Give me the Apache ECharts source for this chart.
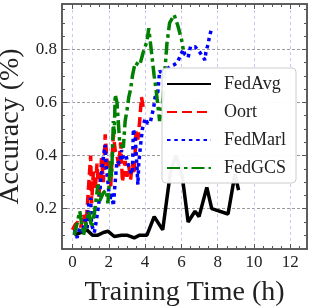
<!DOCTYPE html>
<html><head><meta charset="utf-8">
<script src="https://cdn.jsdelivr.net/npm/echarts@6/dist/echarts.min.js"></script>
<style>html,body{margin:0;padding:0;background:#fff}#c{width:314px;height:306px}</style>
</head><body><div id="c"></div>
<script>
const seriesNames = ['FedAvg', 'Oort', 'FedMarl', 'FedGCS'];
const xTickLabels = [0, 2, 4, 6, 8, 10, 12];
const yTickLabels = [0.2, 0.4, 0.6, 0.8];

const fedAvgX = [0.1,0.45,0.8,1.1,1.4,1.7,1.95,2.3,2.7,3.0,3.4,3.7,4.1,4.5,4.97,5.4,5.7,6.05,6.37,6.75,6.97,7.4,7.67,8.57,8.95,9.15];
const fedAvgY = [0.10,0.11,0.12,0.10,0.10,0.11,0.115,0.095,0.10,0.10,0.09,0.10,0.10,0.17,0.12,0.34,0.40,0.32,0.15,0.19,0.17,0.28,0.20,0.18,0.33,0.27];

const oortX = [0.0,0.15,0.3,0.45,0.6,0.75,0.9,1.0,1.05,1.15,1.25,1.35,1.45,1.6,1.7,1.8,1.9,2.0,2.1,2.25,2.35,2.45,2.55,2.65,2.75,2.9,3.0,3.1,3.2,3.3,3.4,3.5,3.6,3.7,3.8,3.9];
const oortY = [0.12,0.14,0.15,0.13,0.18,0.14,0.30,0.40,0.22,0.34,0.27,0.37,0.24,0.39,0.30,0.48,0.38,0.34,0.28,0.48,0.42,0.40,0.36,0.45,0.30,0.38,0.32,0.36,0.31,0.37,0.33,0.49,0.46,0.53,0.62,0.58];

const fedMarlX = [0.1,0.25,0.4,0.55,0.7,0.8,0.9,1.0,1.05,1.2,1.3,1.45,1.55,1.65,1.75,1.8,1.85,1.95,2.05,2.15,2.25,2.35,2.45,2.6,2.7,2.8,2.95,3.05,3.2,3.3,3.35,3.45,3.55,3.6,3.65,3.75,3.85,4.0,4.15,4.3,4.4,4.47,4.55,4.7,4.8,5.0,5.27,5.55,5.77,6.1,6.2,6.37,6.5,6.75,7.0,7.3,7.35,7.47,7.55,7.67];
const fedMarlY = [0.12,0.09,0.13,0.11,0.16,0.12,0.22,0.24,0.14,0.11,0.15,0.22,0.30,0.37,0.42,0.44,0.36,0.30,0.23,0.26,0.21,0.30,0.38,0.37,0.42,0.39,0.40,0.37,0.34,0.33,0.50,0.47,0.36,0.29,0.37,0.44,0.50,0.54,0.52,0.53,0.56,0.58,0.62,0.64,0.72,0.70,0.73,0.74,0.75,0.80,0.78,0.77,0.81,0.81,0.79,0.76,0.79,0.82,0.85,0.88];

const fedGcsX = [0.1,0.4,0.6,0.9,1.05,1.2,1.4,1.5,1.7,1.85,1.95,2.1,2.15,2.2,2.25,2.3,2.35,2.45,2.6,2.8,2.9,3.0,3.1,3.2,3.3,3.45,3.7,3.9,4.1,4.2,4.35,4.5,4.6,4.8,5.0,5.1,5.2,5.35,5.6,5.8,6.0,6.1];
const fedGcsY = [0.10,0.19,0.10,0.19,0.13,0.18,0.29,0.23,0.26,0.27,0.22,0.38,0.32,0.42,0.53,0.48,0.63,0.60,0.45,0.43,0.53,0.57,0.62,0.65,0.70,0.75,0.74,0.79,0.83,0.88,0.79,0.70,0.65,0.53,0.62,0.73,0.82,0.90,0.93,0.89,0.84,0.80];

const xMin = -0.58, xMax = 12.92, yMin = 0.048, yMax = 0.971;
const FONT = 'Liberation Serif';
const zip = (a, b) => a.map((v, i) => [v, b[i]]);
const range = (s, e, st) => { const r = []; for (let v = s; v <= e + 1e-9; v += st) r.push(+v.toFixed(3)); return r; };
const xMinor = range(0, 12.5, 0.5);
const yMinor = range(0.05, 0.95, 0.05);

const axisCol = '#555';
function xAx(pos, vals, len, labels, split) {
  return {
    type: 'value', position: pos, min: xMin, max: xMax,
    axisLine: { show: true, onZero: false, lineStyle: { color: axisCol, width: 1.5 } },
    axisTick: { show: true, inside: true, length: len, customValues: vals, lineStyle: { color: axisCol, width: 1 } },
    axisLabel: labels ? { show: true, customValues: xTickLabels, color: '#222', fontFamily: FONT, fontSize: 17, margin: 5 } : { show: false },
    splitLine: split ? { show: true, lineStyle: { color: '#c8c8f0', type: [3, 3], width: 1 } } : { show: false },
    name: labels ? 'Training Time (h)' : '', nameLocation: 'middle', nameGap: 30,
    nameTextStyle: { fontFamily: FONT, fontSize: 28, color: '#222' }
  };
}
function yAx(pos, vals, len, labels, split) {
  return {
    type: 'value', position: pos, min: yMin, max: yMax,
    axisLine: { show: true, onZero: false, lineStyle: { color: axisCol, width: 1.5 } },
    axisTick: { show: true, inside: true, length: len, customValues: vals, lineStyle: { color: axisCol, width: 1 } },
    axisLabel: labels ? { show: true, customValues: yTickLabels, color: '#222', fontFamily: FONT, fontSize: 17, margin: 5, formatter: v => v.toFixed(1) } : { show: false },
    splitLine: split ? { show: true, lineStyle: { color: '#999', type: [3, 2], width: 1 } } : { show: false },
    name: labels ? 'Accuracy (%)' : '', nameLocation: 'middle', nameGap: 31,
    nameTextStyle: { fontFamily: FONT, fontSize: 28, color: '#222' }
  };
}

const lw = 3.5;
const option = {
  animation: false,
  grid: { left: 62, right: 7, top: 4, bottom: 57, containLabel: false, outerBoundsMode: 'none' },
  xAxis: [
    xAx('bottom', xTickLabels, 5, true, true),
    xAx('bottom', xMinor, 3, false, false),
    xAx('top', xTickLabels, 5, false, false),
    xAx('top', xMinor, 3, false, false)
  ],
  yAxis: [
    yAx('left', yTickLabels, 5, true, true),
    yAx('left', yMinor, 3, false, false),
    yAx('right', yTickLabels, 5, false, false),
    yAx('right', yMinor, 3, false, false)
  ],
  legend: {
    data: seriesNames, orient: 'vertical', left: 162, top: 68, z: 20,
    itemWidth: 44, itemHeight: 14, itemGap: 10,
    padding: [7, 10, 6, 4],
    itemStyle: { opacity: 0 },
    backgroundColor: 'rgba(255,255,255,0.95)', borderColor: '#ccc', borderWidth: 1, borderRadius: 4,
    textStyle: { fontFamily: FONT, fontSize: 18, color: '#222', padding: [0, 0, 0, 8] }
  },
  series: [
    { name: 'FedAvg', type: 'line', data: zip(fedAvgX, fedAvgY), symbol: 'none', z: 3,
      lineStyle: { color: '#000', width: lw, cap: 'butt' }, itemStyle: { color: '#000' } },
    { name: 'Oort', type: 'line', data: zip(oortX, oortY), symbol: 'none', z: 3,
      lineStyle: { color: '#ff0000', width: lw, type: [10, 5], cap: 'butt' }, itemStyle: { color: '#ff0000' } },
    { name: 'FedMarl', type: 'line', data: zip(fedMarlX, fedMarlY), symbol: 'none', z: 3,
      lineStyle: { color: '#0000ff', width: lw, type: [3.5, 3.8], cap: 'butt' }, itemStyle: { color: '#0000ff' } },
    { name: 'FedGCS', type: 'line', data: zip(fedGcsX, fedGcsY), symbol: 'none', z: 3,
      lineStyle: { color: '#008000', width: lw, type: [13, 4, 3.5, 4], cap: 'butt' }, itemStyle: { color: '#008000' } }
  ]
};
const chart = echarts.init(document.getElementById('c'), null, { renderer: 'canvas' });
chart.setOption(option);
</script></body></html>
